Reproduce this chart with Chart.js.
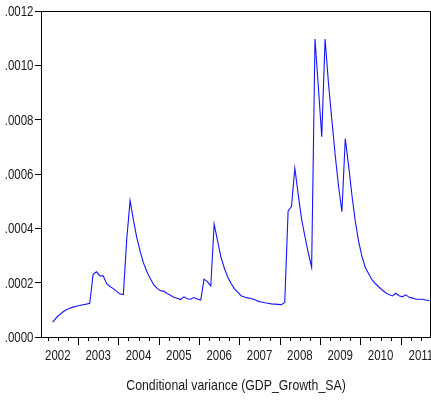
<!DOCTYPE html>
<html>
<head>
<meta charset="utf-8">
<title>Conditional variance (GDP_Growth_SA)</title>
<script src="https://cdn.jsdelivr.net/npm/chart.js@4.4.1/dist/chart.umd.min.js"></script>
<style>
  html, body { margin:0; padding:0; background:#fff; }
  #wrap { width:431px; height:411px; }
</style>
</head>
<body>
<div id="wrap"><canvas id="varChart" width="431" height="411"></canvas></div>
<script>
/* Conditional variance of GDP growth (SA), monthly, 2002M05 - 2011M09 */

const FIRST_YEAR  = 2002;
const FIRST_MONTH = 5;   // May
const yearTicks   = [2002, 2003, 2004, 2005, 2006, 2007, 2008, 2009, 2010, 2011];
const yTicks      = [0, 0.0002, 0.0004, 0.0006, 0.0008, 0.0010, 0.0012];
const AXIS_TITLE  = 'Conditional variance (GDP_Growth_SA)';

// values x 1e-4, one array per calendar year
const v2002 = [0.55, 0.70, 0.82, 0.92, 1.00, 1.06, 1.10, 1.13];
const v2003 = [1.16, 1.19, 1.21, 1.24, 2.31, 2.40, 2.25, 2.25, 1.97, 1.86, 1.78, 1.68];
const v2004 = [1.58, 1.56, 3.60, 5.02, 4.30, 3.65, 3.15, 2.72, 2.40, 2.15, 1.93, 1.80];
const v2005 = [1.70, 1.69, 1.60, 1.54, 1.46, 1.43, 1.38, 1.48, 1.41, 1.39, 1.45, 1.40];
const v2006 = [1.36, 2.13, 2.04, 1.88, 4.16, 3.55, 2.95, 2.55, 2.22, 1.98, 1.78, 1.65];
const v2007 = [1.52, 1.47, 1.44, 1.42, 1.38, 1.32, 1.29, 1.26, 1.24, 1.22, 1.21, 1.20];
const v2008 = [1.19, 1.28, 4.64, 4.80, 6.21, 5.25, 4.35, 3.70, 3.10, 2.57, 10.97, 9.20];
const v2009 = [7.37, 10.97, 9.35, 8.00, 6.70, 5.55, 4.61, 7.30, 6.30, 5.20, 4.25, 3.50];
const v2010 = [2.95, 2.55, 2.32, 2.10, 1.96, 1.84, 1.73, 1.63, 1.56, 1.51, 1.61, 1.52];
const v2011 = [1.48, 1.55, 1.46, 1.43, 1.39, 1.39, 1.39, 1.36, 1.34];

const FONT = "'Liberation Sans', Arial, sans-serif";
const NARROW = 0.82;   // horizontal squeeze, Arial Narrow look

// flatten to {x: fractional year (mid-month), y}
const series = [v2002, v2003, v2004, v2005, v2006, v2007, v2008, v2009, v2010, v2011];
const points = [];
series.forEach((arr, i) => {
  const yr = FIRST_YEAR + i;
  const start = i === 0 ? FIRST_MONTH - 1 : 0;
  arr.forEach((v, j) => {
    points.push({ x: yr + (start + j + 0.5) / 12, y: v * 1e-4 });
  });
});

const X_MIN = 2002 + 1 / 12;
const X_MAX = 2011.75;

function narrowText(ctx, text, x, y, align, size) {
  ctx.save();
  ctx.translate(x, y);
  ctx.scale(NARROW, 1);
  ctx.font = size + 'px ' + FONT;
  ctx.textAlign = align;
  ctx.textBaseline = 'alphabetic';
  ctx.fillStyle = '#1a1a1a';
  ctx.fillText(text, 0, 0);
  ctx.restore();
}

// frame on top/right, quarterly / yearly ticks on the date axis, all labels
const framePlugin = {
  id: 'frame',
  afterDraw(chart) {
    const { ctx, chartArea: a } = chart;
    const xs = chart.scales.x, ys = chart.scales.y;
    ctx.save();
    ctx.strokeStyle = '#000';
    ctx.lineWidth = 1;
    ctx.beginPath();
    ctx.moveTo(a.left, a.top + 0.5);
    ctx.lineTo(a.right - 0.5, a.top + 0.5);
    ctx.lineTo(a.right - 0.5, a.bottom);
    ctx.stroke();
    ctx.beginPath();
    for (let q = yearTicks[0]; q <= X_MAX + 1e-9; q += 0.25) {
      if (q < X_MIN - 1e-9) continue;
      const px = Math.round(xs.getPixelForValue(q)) + 0.5;
      const major = Math.abs(q - Math.round(q)) < 1e-6;
      ctx.moveTo(px, a.bottom);
      ctx.lineTo(px, a.bottom + (major ? 8 : 4));
    }
    ctx.stroke();
    ctx.restore();

    yTicks.forEach(v => {
      narrowText(ctx, v.toFixed(4).replace(/^0/, ''), a.left - 7.5, ys.getPixelForValue(v) + 5, 'right', 14);
    });
    yearTicks.forEach(y => {
      narrowText(ctx, String(y), xs.getPixelForValue(y + 0.5), a.bottom + 23, 'center', 14);
    });
    narrowText(ctx, AXIS_TITLE, (a.left + a.right) / 2, a.bottom + 53, 'center', 15);
  }
};

new Chart(document.getElementById('varChart'), {
  type: 'line',
  data: {
    datasets: [{
      data: points,
      borderColor: 'rgb(20,20,255)',
      borderWidth: 1.1,
      pointRadius: 0,
      tension: 0,
      fill: false
    }]
  },
  options: {
    responsive: false,
    animation: false,
    events: [],
    layout: { padding: { top: 11, right: 0, left: 0, bottom: 0 } },
    plugins: { legend: { display: false }, tooltip: { enabled: false } },
    scales: {
      x: {
        type: 'linear',
        min: X_MIN, max: X_MAX,
        afterFit: s => { s.height = 74; },
        grid: { display: false, drawTicks: false },
        border: { display: true, color: '#000', width: 1 },
        ticks: { display: false }
      },
      y: {
        min: 0, max: 0.0012,
        afterBuildTicks: s => { s.ticks = yTicks.map(v => ({ value: v })); },
        afterFit: s => { s.width = 41; },
        grid: { drawOnChartArea: false, drawTicks: true, tickLength: 6, color: '#000' },
        border: { display: true, color: '#000', width: 1 },
        ticks: { display: false }
      }
    }
  },
  plugins: [framePlugin]
});
</script>
</body>
</html>
